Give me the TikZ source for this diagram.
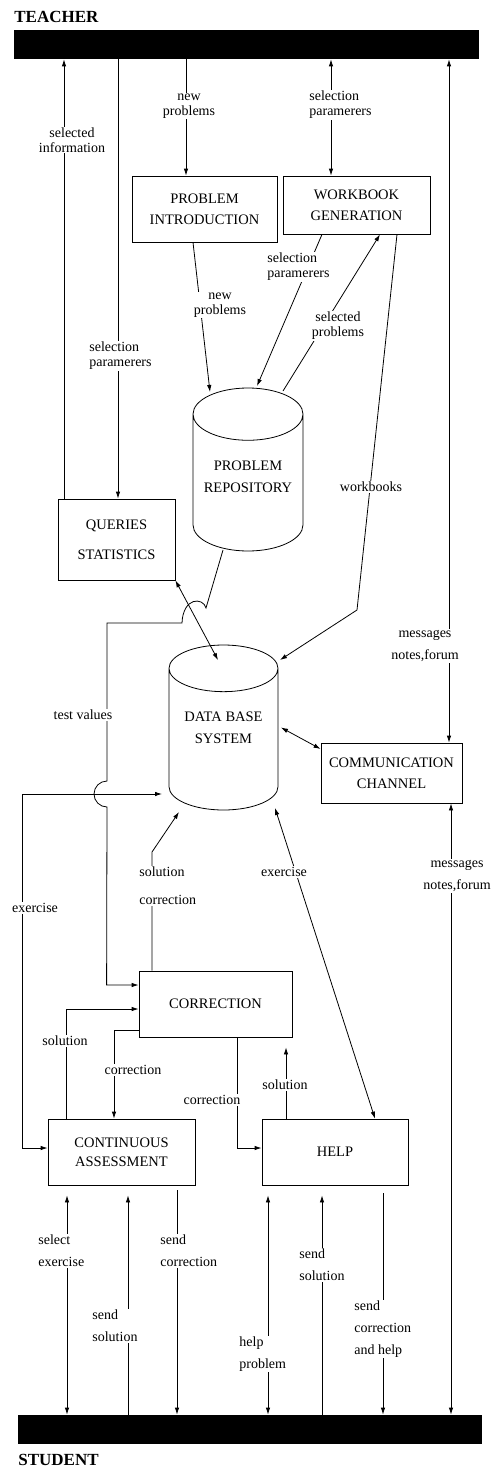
\documentclass[tikz,border=0pt]{standalone}
\usepackage{fontspec}
\setmainfont{Liberation Serif}
\usetikzlibrary{calc,shapes.geometric,arrows.meta}
\def\lifted(#1)#2{\raisebox{#1}[\height][\depth]{\begin{tabular}{@{}c@{}}#2\end{tabular}}}
\tikzset{
	box/.style={draw, align=center, inner sep=2pt, font=\fontsize{14.5}{21}\selectfont},
	cyl/.style={draw, cylinder, shape border rotate=90, aspect=0.55, anchor=shape center, font=\fontsize{14.5}{22}\selectfont},
	lbl/.style={fill=white, inner sep=1pt, align=center, font=\fontsize{14}{15}\selectfont},
	lblw/.style={lbl, font=\fontsize{14}{22}\selectfont},
	bar/.style={fill=black, inner sep=0pt},
	who/.style={anchor=base west, inner sep=0pt, font=\fontsize{17}{17}\selectfont\bfseries},
}

\begin{document}
\begin{tikzpicture}[x=1pt, y=-1pt, line width=0.8pt, >={Latex[length=7pt,width=4.5pt]}]
			%%%%% START %%%%%
			\useasboundingbox (0,0) rectangle (497,1469);
			
			\node[bar, minimum width=465pt, minimum height=29pt] (teacher) at (246.5,44.5) {};
			\node[who] (teachername) at (14,22.7) {TEACHER};
			\node[bar, minimum width=464pt, minimum height=29pt] (student) at (250,1429.5) {};
			\node[who] (studentname) at (18,1465) {STUDENT};
			
			\node[box, minimum width=145pt, minimum height=66pt] (pi) at (204.5,209) {PROBLEM\\INTRODUCTION};
			\node[box, minimum width=147pt, minimum height=58pt] (wg) at (356.5,205) {WORKBOOK\\GENERATION};
			\node[box, minimum width=117pt, minimum height=81pt] (qs) at (116.5,539.5) {QUERIES\\[9pt]STATISTICS};
			\node[box, minimum width=141pt, minimum height=60pt] (cc) at (391.5,773) {COMMUNICATION\\CHANNEL};
			\node[box, minimum width=153pt, minimum height=66pt] (corr) at (215.5,1004) {CORRECTION};
			\node[box, minimum width=147pt, minimum height=66pt] (ca) at (121.5,1152) {CONTINUOUS\\[-2pt]ASSESSMENT};
			\node[box, minimum width=146pt, minimum height=66pt] (help) at (335,1152) {HELP};
			
			\node[cyl, minimum width=110pt, minimum height=163pt] (pr) at (248,469.5) {\lifted(10pt){PROBLEM\\REPOSITORY}};
			\node[cyl, minimum width=109pt, minimum height=165pt] (db) at (223.5,727.5) {\lifted(15pt){DATA BASE\\SYSTEM}};
			
			%%%%% TEACHER SIDE %%%%%
			\draw[->] ($(qs.north)+(-52.5,0)$) coordinate (q1) -- (q1 |- teacher.south);
			\draw[<-] ($(qs.north)+(1.5,0)$) coordinate (q2) -- (q2 |- teacher.south);
			\draw[<-] ($(pi.north)+(-18.5,0)$) coordinate (p1) -- (p1 |- teacher.south);
			\draw[<->] ($(wg.north)+(-25.5,0)$) coordinate (w1) -- (w1 |- teacher.south);
			\draw[<->] ($(cc.north)+(57.5,0)$) coordinate (c1) -- (c1 |- teacher.south);
			
			\draw[->] ($(pi.south)+(-11.5,0)$) -- ($(pr.shape center)+(-38,-77.5)$);
			\draw[->] ($(wg.south)+(-34.5,0)$) -- ($(pr.shape center)+(9,-83.5)$);
			\draw[->] ($(pr.shape center)+(35,-78.5)$) -- ($(wg.south)+(23.5,0)$);
			\draw[->] ($(wg.south)+(40.5,0)$) -- (357,610) -- ($(db.shape center)+(56.5,-67.5)$);
			
			%%%%% DATA BASE %%%%%
			\draw[<->] (qs.south east) -- ($(db.shape center)+(-5.5,-67.5)$);
			\draw[->] ($(pr.shape center)+(-25,80.5)$) -- (206,608) .. controls (203,597) and (183,597) .. (182,623) -- (107,623) -- (107,781) arc (270:90:13) -- ($(corr.west)+(-32,-19)$) -- ($(corr.west)+(0,-19)$);
			\draw[<->] ($(db.shape center)+(57.5,0)$) -- ($(cc.west)+(0,-24)$);
			\draw[<->] ($(db.shape center)+(-61.5,66.5)$) -| (22,1148) -- ($(ca.west)+(0,-4)$);
			\draw[->] ($(corr.north)+(-63.5,0)$) -- (152,852) -- ($(db.shape center)+(-44.5,84.5)$);
			\draw[<->] ($(db.shape center)+(51.5,80.5)$) -- ($(help.north)+(40,0)$);
			
			%%%%% CORRECTION %%%%%
			\draw[->] ($(ca.north)+(-55.5,0)$) |- ($(corr.west)+(0,5)$);
			\draw[->] ($(corr.west)+(0,26)$) -| ($(ca.north)+(-7.5,0)$);
			\draw[->] ($(corr.south)+(21.5,0)$) |- ($(help.west)+(0,-4)$);
			\draw[->, shorten >=10pt] ($(help.north)+(-49,0)$) -- ($(corr.south)+(70.5,0)$);
			
			%%%%% STUDENT SIDE %%%%%
			\draw[<->] ($(cc.south)+(59.5,0)$) coordinate (c2) -- (c2 |- student.north);
			\draw[<->, shorten <=10pt] ($(ca.south)+(-54.5,0)$) coordinate (a1) -- (a1 |- student.north);
			\draw[<-, shorten <=10pt] ($(ca.south)+(6.5,0)$) coordinate (a2) -- (a2 |- student.north);
			\draw[->, shorten <=5pt] ($(ca.south)+(55.5,0)$) coordinate (a3) -- (a3 |- student.north);
			\draw[<->, shorten <=10pt] ($(help.south)+(-67,0)$) coordinate (h1) -- (h1 |- student.north);
			\draw[<-, shorten <=10pt] ($(help.south)+(-13,0)$) coordinate (h2) -- (h2 |- student.north);
			\draw[->, shorten <=8pt] ($(help.south)+(48,0)$) coordinate (h3) -- (h3 |- student.north);
			
			%%%%% LABELS %%%%%
			\node[lbl] (lselinf) at (72,140) {selected\\information};
			\node[lbl, align=left, anchor=west] (lselpar1) at (88,356) {selection\\paramerers};
			\node[lbl] (lnewp1) at (189,106) {new\\problems};
			\node[lbl, align=left, anchor=west] (lselpar2) at (308,105) {selection\\paramerers};
			\node[lbl] (lnewp2) at (220,305) {new\\problems};
			\node[lbl, align=left, anchor=west] (lselpar3) at (266,267) {selection\\paramerers};
			\node[lbl] (lselprob) at (338,326) {selected\\problems};
			\node[lbl] (lworkb) at (371,487) {workbooks};
			\node[lbl] (ltest) at (83,715) {test values};
			\node[lblw] (lmsg1) at (425,646) {messages\\notes,forum};
			\node[lblw] (lmsg2) at (457,876) {messages\\notes,forum};
			\node[lbl] (lexer1) at (35,908) {exercise};
			\node[lbl, align=left, anchor=west, font=\fontsize{14}{28}\selectfont] (lsolcor) at (138,886) {solution\\correction};
			\node[lbl] (lexer2) at (284,872) {exercise};
			\node[lbl] (lsol1) at (65,1041) {solution};
			\node[lbl] (lcor1) at (133,1070) {correction};
			\node[lbl] (lcor2) at (212,1100) {correction};
			\node[lbl] (lsol2) at (285,1085) {solution};
			\node[lblw, align=left, anchor=west] (lselex) at (37,1251) {select\\exercise};
			\node[lblw, align=left, anchor=west] (lsendsol1) at (91,1326) {send\\solution};
			\node[lblw, align=left, anchor=west] (lsendcor1) at (159,1251) {send\\correction};
			\node[lblw, align=left, anchor=west] (lhelp) at (238,1354) {help\\problem};
			\node[lblw, align=left, anchor=west] (lsendsol2) at (298,1265) {send\\solution};
			\node[lblw, align=left, anchor=west] (lsendcor2) at (353,1329) {send\\correction\\and help};
			
			%%%%% END %%%%%
\end{tikzpicture}
\end{document}
